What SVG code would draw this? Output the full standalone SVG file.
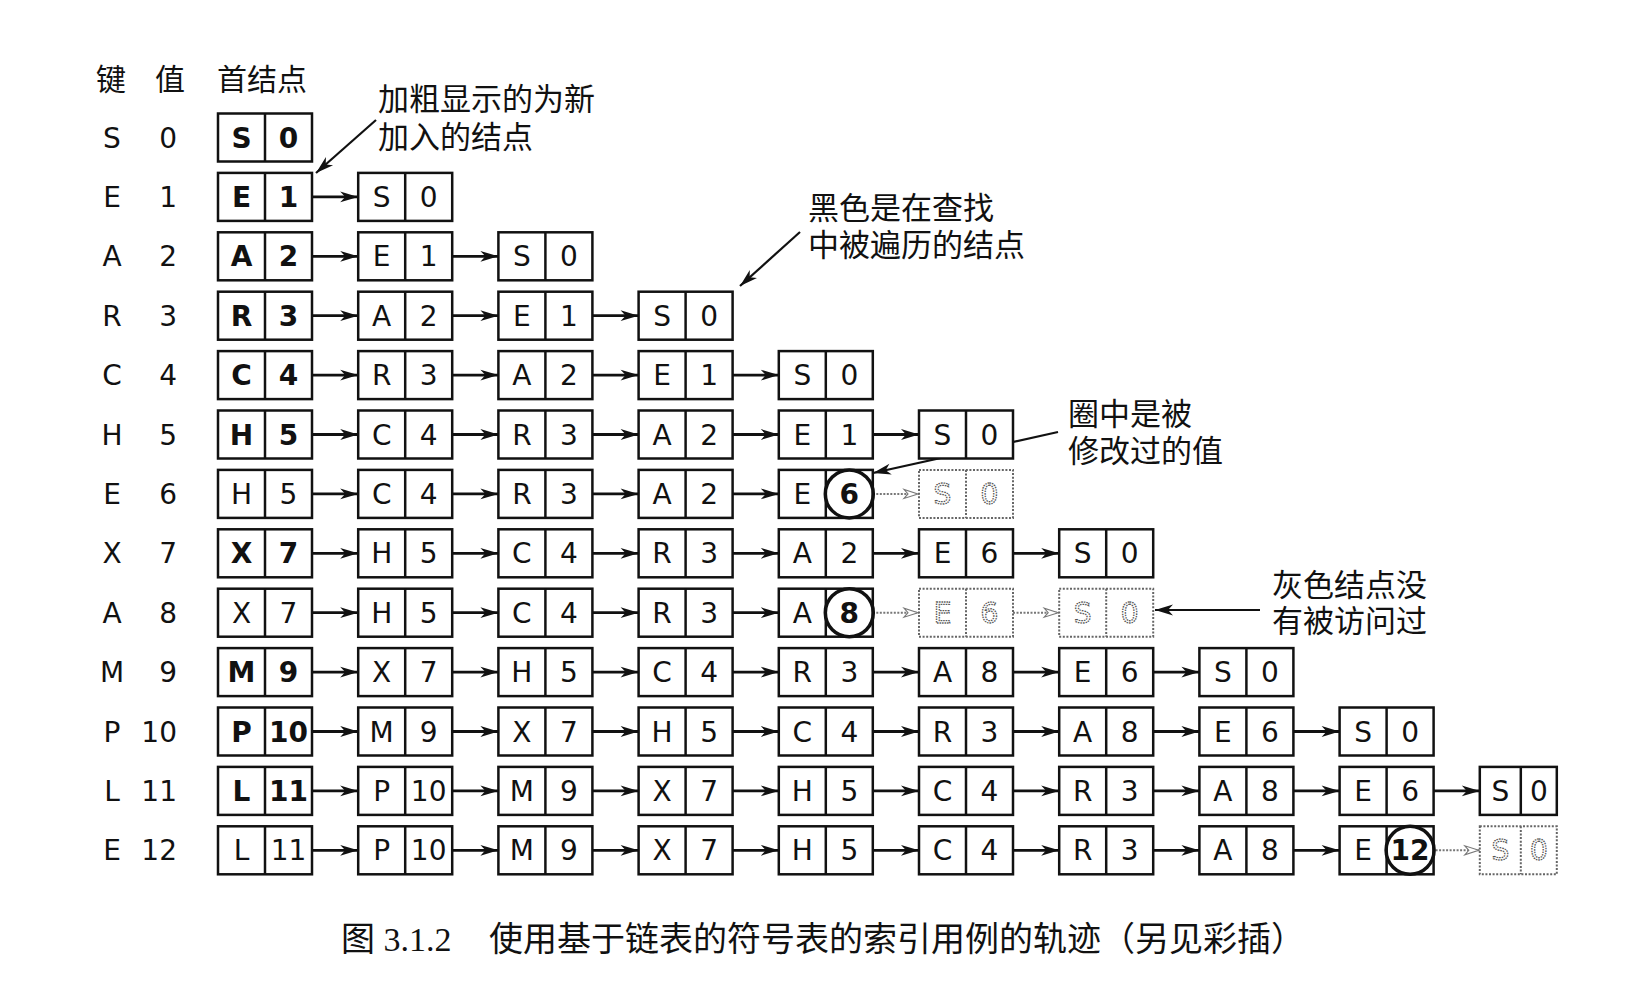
<svg xmlns="http://www.w3.org/2000/svg" width="1652" height="998" viewBox="0 0 1652 998">
<style>
.n rect{fill:#fff;stroke:#111;stroke-width:2.5}
.n path{fill:none;stroke:#111;stroke-width:2.5}
.n text{font-family:"DejaVu Sans","Liberation Sans",sans-serif;font-size:28px;text-anchor:middle;fill:#111}
.nb text{font-weight:bold}
.n circle{fill:none;stroke:#111;stroke-width:3.5}
.n text.bo{font-weight:bold}
.ng rect,.ng path{stroke:#666;stroke-width:2;stroke-dasharray:2 1.6}
.ng text{fill:none;stroke:#555;stroke-width:1.3;stroke-dasharray:1.5 1}
.lab{font-family:"DejaVu Sans","Liberation Sans",sans-serif;font-size:28px;fill:#111}
.cj{font-family:"Noto Sans CJK SC",sans-serif;font-size:31px;fill:#111}
.hd{font-family:"Noto Sans CJK SC",sans-serif;font-size:30px;fill:#111}
.cap{font-family:"Liberation Serif","Noto Sans CJK SC",serif;font-size:34px;fill:#111}
.ar{fill:none;stroke:#111;stroke-width:2.8;marker-end:url(#ah)}
.ga{fill:none;stroke:#777;stroke-width:2;stroke-dasharray:2 1.5;marker-end:url(#gh)}
.ca{fill:none;stroke:#111;stroke-width:2.2;marker-end:url(#ah)}
</style>
<defs>
<marker id="ah" markerUnits="userSpaceOnUse" viewBox="0 0 22 14" markerWidth="22" markerHeight="14" refX="19" refY="7" orient="auto">
<path d="M19,7 L1,1.6 L6,7 L1,12.4 Z" fill="#111"/>
</marker>
<marker id="gh" markerUnits="userSpaceOnUse" viewBox="0 0 22 14" markerWidth="22" markerHeight="14" refX="18" refY="7" orient="auto">
<path d="M17,7 L3,2.5 L7,7 L3,11.5 Z" fill="#fff" stroke="#777" stroke-width="1.1"/>
</marker>
</defs>
<rect width="1652" height="998" fill="#fff"/>

<g id="header">
<text class="hd" x="111" y="90" text-anchor="middle">键</text>
<text class="hd" x="170" y="90" text-anchor="middle">值</text>
<text class="hd" x="217" y="90">首结点</text>
</g>

<g id="row-labels" class="lab">
<g text-anchor="middle">
<text x="112" y="147.5">S</text><text x="112" y="206.9">E</text><text x="112" y="266.3">A</text><text x="112" y="325.7">R</text><text x="112" y="385.1">C</text><text x="112" y="444.5">H</text><text x="112" y="503.9">E</text><text x="112" y="563.3">X</text><text x="112" y="622.7">A</text><text x="112" y="682.1">M</text><text x="112" y="741.5">P</text><text x="112" y="800.9">L</text><text x="112" y="860.3">E</text>
</g>
<g text-anchor="end">
<text x="177" y="147.5">0</text><text x="177" y="206.9">1</text><text x="177" y="266.3">2</text><text x="177" y="325.7">3</text><text x="177" y="385.1">4</text><text x="177" y="444.5">5</text><text x="177" y="503.9">6</text><text x="177" y="563.3">7</text><text x="177" y="622.7">8</text><text x="177" y="682.1">9</text><text x="177" y="741.5">10</text><text x="177" y="800.9">11</text><text x="177" y="860.3">12</text>
</g>
</g>

<g id="connectors">
<path class="ar" d="M312,196.9H358.2"/>
<path class="ar" d="M312,256.3H358.2"/><path class="ar" d="M452.2,256.3H498.4"/>
<path class="ar" d="M312,315.7H358.2"/><path class="ar" d="M452.2,315.7H498.4"/><path class="ar" d="M592.4,315.7H638.6"/>
<path class="ar" d="M312,375.1H358.2"/><path class="ar" d="M452.2,375.1H498.4"/><path class="ar" d="M592.4,375.1H638.6"/><path class="ar" d="M732.6,375.1H778.8"/>
<path class="ar" d="M312,434.5H358.2"/><path class="ar" d="M452.2,434.5H498.4"/><path class="ar" d="M592.4,434.5H638.6"/><path class="ar" d="M732.6,434.5H778.8"/><path class="ar" d="M872.8,434.5H919"/>
<path class="ar" d="M312,493.9H358.2"/><path class="ar" d="M452.2,493.9H498.4"/><path class="ar" d="M592.4,493.9H638.6"/><path class="ar" d="M732.6,493.9H778.8"/><path class="ga" d="M872.8,493.9H919"/>
<path class="ar" d="M312,553.3H358.2"/><path class="ar" d="M452.2,553.3H498.4"/><path class="ar" d="M592.4,553.3H638.6"/><path class="ar" d="M732.6,553.3H778.8"/><path class="ar" d="M872.8,553.3H919"/><path class="ar" d="M1013,553.3H1059.2"/>
<path class="ar" d="M312,612.7H358.2"/><path class="ar" d="M452.2,612.7H498.4"/><path class="ar" d="M592.4,612.7H638.6"/><path class="ar" d="M732.6,612.7H778.8"/><path class="ga" d="M872.8,612.7H919"/><path class="ga" d="M1013,612.7H1059.2"/>
<path class="ar" d="M312,672.1H358.2"/><path class="ar" d="M452.2,672.1H498.4"/><path class="ar" d="M592.4,672.1H638.6"/><path class="ar" d="M732.6,672.1H778.8"/><path class="ar" d="M872.8,672.1H919"/><path class="ar" d="M1013,672.1H1059.2"/><path class="ar" d="M1153.2,672.1H1199.4"/>
<path class="ar" d="M312,731.5H358.2"/><path class="ar" d="M452.2,731.5H498.4"/><path class="ar" d="M592.4,731.5H638.6"/><path class="ar" d="M732.6,731.5H778.8"/><path class="ar" d="M872.8,731.5H919"/><path class="ar" d="M1013,731.5H1059.2"/><path class="ar" d="M1153.2,731.5H1199.4"/><path class="ar" d="M1293.4,731.5H1339.6"/>
<path class="ar" d="M312,790.9H358.2"/><path class="ar" d="M452.2,790.9H498.4"/><path class="ar" d="M592.4,790.9H638.6"/><path class="ar" d="M732.6,790.9H778.8"/><path class="ar" d="M872.8,790.9H919"/><path class="ar" d="M1013,790.9H1059.2"/><path class="ar" d="M1153.2,790.9H1199.4"/><path class="ar" d="M1293.4,790.9H1339.6"/><path class="ar" d="M1433.6,790.9H1479.8"/>
<path class="ar" d="M312,850.3H358.2"/><path class="ar" d="M452.2,850.3H498.4"/><path class="ar" d="M592.4,850.3H638.6"/><path class="ar" d="M732.6,850.3H778.8"/><path class="ar" d="M872.8,850.3H919"/><path class="ar" d="M1013,850.3H1059.2"/><path class="ar" d="M1153.2,850.3H1199.4"/><path class="ar" d="M1293.4,850.3H1339.6"/><path class="ga" d="M1435.6,850.3H1479.8"/>
<path class="ca" d="M376,120L316,173"/>
<path class="ca" d="M800,232L740,286"/>
<path class="ca" d="M1058,432L873,473"/>
<path class="ca" d="M1260,610H1155"/>
</g>

<g id="nodes">
<g id="r0c0" class="n nb" transform="translate(218,113.5)"><rect width="94" height="48"/><path d="M47,0V48"/><text x="23.5" y="34">S</text><text x="70.5" y="34">0</text></g>
<g id="r1c0" class="n nb" transform="translate(218,172.9)"><rect width="94" height="48"/><path d="M47,0V48"/><text x="23.5" y="34">E</text><text x="70.5" y="34">1</text></g>
<g id="r1c1" class="n" transform="translate(358.2,172.9)"><rect width="94" height="48"/><path d="M47,0V48"/><text x="23.5" y="34">S</text><text x="70.5" y="34">0</text></g>
<g id="r2c0" class="n nb" transform="translate(218,232.3)"><rect width="94" height="48"/><path d="M47,0V48"/><text x="23.5" y="34">A</text><text x="70.5" y="34">2</text></g>
<g id="r2c1" class="n" transform="translate(358.2,232.3)"><rect width="94" height="48"/><path d="M47,0V48"/><text x="23.5" y="34">E</text><text x="70.5" y="34">1</text></g>
<g id="r2c2" class="n" transform="translate(498.4,232.3)"><rect width="94" height="48"/><path d="M47,0V48"/><text x="23.5" y="34">S</text><text x="70.5" y="34">0</text></g>
<g id="r3c0" class="n nb" transform="translate(218,291.7)"><rect width="94" height="48"/><path d="M47,0V48"/><text x="23.5" y="34">R</text><text x="70.5" y="34">3</text></g>
<g id="r3c1" class="n" transform="translate(358.2,291.7)"><rect width="94" height="48"/><path d="M47,0V48"/><text x="23.5" y="34">A</text><text x="70.5" y="34">2</text></g>
<g id="r3c2" class="n" transform="translate(498.4,291.7)"><rect width="94" height="48"/><path d="M47,0V48"/><text x="23.5" y="34">E</text><text x="70.5" y="34">1</text></g>
<g id="r3c3" class="n" transform="translate(638.6,291.7)"><rect width="94" height="48"/><path d="M47,0V48"/><text x="23.5" y="34">S</text><text x="70.5" y="34">0</text></g>
<g id="r4c0" class="n nb" transform="translate(218,351.1)"><rect width="94" height="48"/><path d="M47,0V48"/><text x="23.5" y="34">C</text><text x="70.5" y="34">4</text></g>
<g id="r4c1" class="n" transform="translate(358.2,351.1)"><rect width="94" height="48"/><path d="M47,0V48"/><text x="23.5" y="34">R</text><text x="70.5" y="34">3</text></g>
<g id="r4c2" class="n" transform="translate(498.4,351.1)"><rect width="94" height="48"/><path d="M47,0V48"/><text x="23.5" y="34">A</text><text x="70.5" y="34">2</text></g>
<g id="r4c3" class="n" transform="translate(638.6,351.1)"><rect width="94" height="48"/><path d="M47,0V48"/><text x="23.5" y="34">E</text><text x="70.5" y="34">1</text></g>
<g id="r4c4" class="n" transform="translate(778.8,351.1)"><rect width="94" height="48"/><path d="M47,0V48"/><text x="23.5" y="34">S</text><text x="70.5" y="34">0</text></g>
<g id="r5c0" class="n nb" transform="translate(218,410.5)"><rect width="94" height="48"/><path d="M47,0V48"/><text x="23.5" y="34">H</text><text x="70.5" y="34">5</text></g>
<g id="r5c1" class="n" transform="translate(358.2,410.5)"><rect width="94" height="48"/><path d="M47,0V48"/><text x="23.5" y="34">C</text><text x="70.5" y="34">4</text></g>
<g id="r5c2" class="n" transform="translate(498.4,410.5)"><rect width="94" height="48"/><path d="M47,0V48"/><text x="23.5" y="34">R</text><text x="70.5" y="34">3</text></g>
<g id="r5c3" class="n" transform="translate(638.6,410.5)"><rect width="94" height="48"/><path d="M47,0V48"/><text x="23.5" y="34">A</text><text x="70.5" y="34">2</text></g>
<g id="r5c4" class="n" transform="translate(778.8,410.5)"><rect width="94" height="48"/><path d="M47,0V48"/><text x="23.5" y="34">E</text><text x="70.5" y="34">1</text></g>
<g id="r5c5" class="n" transform="translate(919,410.5)"><rect width="94" height="48"/><path d="M47,0V48"/><text x="23.5" y="34">S</text><text x="70.5" y="34">0</text></g>
<g id="r6c0" class="n" transform="translate(218,469.9)"><rect width="94" height="48"/><path d="M47,0V48"/><text x="23.5" y="34">H</text><text x="70.5" y="34">5</text></g>
<g id="r6c1" class="n" transform="translate(358.2,469.9)"><rect width="94" height="48"/><path d="M47,0V48"/><text x="23.5" y="34">C</text><text x="70.5" y="34">4</text></g>
<g id="r6c2" class="n" transform="translate(498.4,469.9)"><rect width="94" height="48"/><path d="M47,0V48"/><text x="23.5" y="34">R</text><text x="70.5" y="34">3</text></g>
<g id="r6c3" class="n" transform="translate(638.6,469.9)"><rect width="94" height="48"/><path d="M47,0V48"/><text x="23.5" y="34">A</text><text x="70.5" y="34">2</text></g>
<g id="r6c4" class="n" transform="translate(778.8,469.9)"><rect width="94" height="48"/><path d="M47,0V48"/><text x="23.5" y="34">E</text><text class="bo" x="70.5" y="34">6</text><circle cx="70.5" cy="24" r="24"/></g>
<g id="r6c5" class="n ng" transform="translate(919,469.9)"><rect width="94" height="48"/><path d="M47,0V48"/><text x="23.5" y="34">S</text><text x="70.5" y="34">0</text></g>
<g id="r7c0" class="n nb" transform="translate(218,529.3)"><rect width="94" height="48"/><path d="M47,0V48"/><text x="23.5" y="34">X</text><text x="70.5" y="34">7</text></g>
<g id="r7c1" class="n" transform="translate(358.2,529.3)"><rect width="94" height="48"/><path d="M47,0V48"/><text x="23.5" y="34">H</text><text x="70.5" y="34">5</text></g>
<g id="r7c2" class="n" transform="translate(498.4,529.3)"><rect width="94" height="48"/><path d="M47,0V48"/><text x="23.5" y="34">C</text><text x="70.5" y="34">4</text></g>
<g id="r7c3" class="n" transform="translate(638.6,529.3)"><rect width="94" height="48"/><path d="M47,0V48"/><text x="23.5" y="34">R</text><text x="70.5" y="34">3</text></g>
<g id="r7c4" class="n" transform="translate(778.8,529.3)"><rect width="94" height="48"/><path d="M47,0V48"/><text x="23.5" y="34">A</text><text x="70.5" y="34">2</text></g>
<g id="r7c5" class="n" transform="translate(919,529.3)"><rect width="94" height="48"/><path d="M47,0V48"/><text x="23.5" y="34">E</text><text x="70.5" y="34">6</text></g>
<g id="r7c6" class="n" transform="translate(1059.2,529.3)"><rect width="94" height="48"/><path d="M47,0V48"/><text x="23.5" y="34">S</text><text x="70.5" y="34">0</text></g>
<g id="r8c0" class="n" transform="translate(218,588.7)"><rect width="94" height="48"/><path d="M47,0V48"/><text x="23.5" y="34">X</text><text x="70.5" y="34">7</text></g>
<g id="r8c1" class="n" transform="translate(358.2,588.7)"><rect width="94" height="48"/><path d="M47,0V48"/><text x="23.5" y="34">H</text><text x="70.5" y="34">5</text></g>
<g id="r8c2" class="n" transform="translate(498.4,588.7)"><rect width="94" height="48"/><path d="M47,0V48"/><text x="23.5" y="34">C</text><text x="70.5" y="34">4</text></g>
<g id="r8c3" class="n" transform="translate(638.6,588.7)"><rect width="94" height="48"/><path d="M47,0V48"/><text x="23.5" y="34">R</text><text x="70.5" y="34">3</text></g>
<g id="r8c4" class="n" transform="translate(778.8,588.7)"><rect width="94" height="48"/><path d="M47,0V48"/><text x="23.5" y="34">A</text><text class="bo" x="70.5" y="34">8</text><circle cx="70.5" cy="24" r="24"/></g>
<g id="r8c5" class="n ng" transform="translate(919,588.7)"><rect width="94" height="48"/><path d="M47,0V48"/><text x="23.5" y="34">E</text><text x="70.5" y="34">6</text></g>
<g id="r8c6" class="n ng" transform="translate(1059.2,588.7)"><rect width="94" height="48"/><path d="M47,0V48"/><text x="23.5" y="34">S</text><text x="70.5" y="34">0</text></g>
<g id="r9c0" class="n nb" transform="translate(218,648.1)"><rect width="94" height="48"/><path d="M47,0V48"/><text x="23.5" y="34">M</text><text x="70.5" y="34">9</text></g>
<g id="r9c1" class="n" transform="translate(358.2,648.1)"><rect width="94" height="48"/><path d="M47,0V48"/><text x="23.5" y="34">X</text><text x="70.5" y="34">7</text></g>
<g id="r9c2" class="n" transform="translate(498.4,648.1)"><rect width="94" height="48"/><path d="M47,0V48"/><text x="23.5" y="34">H</text><text x="70.5" y="34">5</text></g>
<g id="r9c3" class="n" transform="translate(638.6,648.1)"><rect width="94" height="48"/><path d="M47,0V48"/><text x="23.5" y="34">C</text><text x="70.5" y="34">4</text></g>
<g id="r9c4" class="n" transform="translate(778.8,648.1)"><rect width="94" height="48"/><path d="M47,0V48"/><text x="23.5" y="34">R</text><text x="70.5" y="34">3</text></g>
<g id="r9c5" class="n" transform="translate(919,648.1)"><rect width="94" height="48"/><path d="M47,0V48"/><text x="23.5" y="34">A</text><text x="70.5" y="34">8</text></g>
<g id="r9c6" class="n" transform="translate(1059.2,648.1)"><rect width="94" height="48"/><path d="M47,0V48"/><text x="23.5" y="34">E</text><text x="70.5" y="34">6</text></g>
<g id="r9c7" class="n" transform="translate(1199.4,648.1)"><rect width="94" height="48"/><path d="M47,0V48"/><text x="23.5" y="34">S</text><text x="70.5" y="34">0</text></g>
<g id="r10c0" class="n nb" transform="translate(218,707.5)"><rect width="94" height="48"/><path d="M47,0V48"/><text x="23.5" y="34">P</text><text x="70.5" y="34">10</text></g>
<g id="r10c1" class="n" transform="translate(358.2,707.5)"><rect width="94" height="48"/><path d="M47,0V48"/><text x="23.5" y="34">M</text><text x="70.5" y="34">9</text></g>
<g id="r10c2" class="n" transform="translate(498.4,707.5)"><rect width="94" height="48"/><path d="M47,0V48"/><text x="23.5" y="34">X</text><text x="70.5" y="34">7</text></g>
<g id="r10c3" class="n" transform="translate(638.6,707.5)"><rect width="94" height="48"/><path d="M47,0V48"/><text x="23.5" y="34">H</text><text x="70.5" y="34">5</text></g>
<g id="r10c4" class="n" transform="translate(778.8,707.5)"><rect width="94" height="48"/><path d="M47,0V48"/><text x="23.5" y="34">C</text><text x="70.5" y="34">4</text></g>
<g id="r10c5" class="n" transform="translate(919,707.5)"><rect width="94" height="48"/><path d="M47,0V48"/><text x="23.5" y="34">R</text><text x="70.5" y="34">3</text></g>
<g id="r10c6" class="n" transform="translate(1059.2,707.5)"><rect width="94" height="48"/><path d="M47,0V48"/><text x="23.5" y="34">A</text><text x="70.5" y="34">8</text></g>
<g id="r10c7" class="n" transform="translate(1199.4,707.5)"><rect width="94" height="48"/><path d="M47,0V48"/><text x="23.5" y="34">E</text><text x="70.5" y="34">6</text></g>
<g id="r10c8" class="n" transform="translate(1339.6,707.5)"><rect width="94" height="48"/><path d="M47,0V48"/><text x="23.5" y="34">S</text><text x="70.5" y="34">0</text></g>
<g id="r11c0" class="n nb" transform="translate(218,766.9)"><rect width="94" height="48"/><path d="M47,0V48"/><text x="23.5" y="34">L</text><text x="70.5" y="34">11</text></g>
<g id="r11c1" class="n" transform="translate(358.2,766.9)"><rect width="94" height="48"/><path d="M47,0V48"/><text x="23.5" y="34">P</text><text x="70.5" y="34">10</text></g>
<g id="r11c2" class="n" transform="translate(498.4,766.9)"><rect width="94" height="48"/><path d="M47,0V48"/><text x="23.5" y="34">M</text><text x="70.5" y="34">9</text></g>
<g id="r11c3" class="n" transform="translate(638.6,766.9)"><rect width="94" height="48"/><path d="M47,0V48"/><text x="23.5" y="34">X</text><text x="70.5" y="34">7</text></g>
<g id="r11c4" class="n" transform="translate(778.8,766.9)"><rect width="94" height="48"/><path d="M47,0V48"/><text x="23.5" y="34">H</text><text x="70.5" y="34">5</text></g>
<g id="r11c5" class="n" transform="translate(919,766.9)"><rect width="94" height="48"/><path d="M47,0V48"/><text x="23.5" y="34">C</text><text x="70.5" y="34">4</text></g>
<g id="r11c6" class="n" transform="translate(1059.2,766.9)"><rect width="94" height="48"/><path d="M47,0V48"/><text x="23.5" y="34">R</text><text x="70.5" y="34">3</text></g>
<g id="r11c7" class="n" transform="translate(1199.4,766.9)"><rect width="94" height="48"/><path d="M47,0V48"/><text x="23.5" y="34">A</text><text x="70.5" y="34">8</text></g>
<g id="r11c8" class="n" transform="translate(1339.6,766.9)"><rect width="94" height="48"/><path d="M47,0V48"/><text x="23.5" y="34">E</text><text x="70.5" y="34">6</text></g>
<g id="r11c9" class="n" transform="translate(1479.8,766.9)"><rect width="77" height="48"/><path d="M41,0V48"/><text x="20.5" y="34">S</text><text x="59" y="34">0</text></g>
<g id="r12c0" class="n" transform="translate(218,826.3)"><rect width="94" height="48"/><path d="M47,0V48"/><text x="23.5" y="34">L</text><text x="70.5" y="34">11</text></g>
<g id="r12c1" class="n" transform="translate(358.2,826.3)"><rect width="94" height="48"/><path d="M47,0V48"/><text x="23.5" y="34">P</text><text x="70.5" y="34">10</text></g>
<g id="r12c2" class="n" transform="translate(498.4,826.3)"><rect width="94" height="48"/><path d="M47,0V48"/><text x="23.5" y="34">M</text><text x="70.5" y="34">9</text></g>
<g id="r12c3" class="n" transform="translate(638.6,826.3)"><rect width="94" height="48"/><path d="M47,0V48"/><text x="23.5" y="34">X</text><text x="70.5" y="34">7</text></g>
<g id="r12c4" class="n" transform="translate(778.8,826.3)"><rect width="94" height="48"/><path d="M47,0V48"/><text x="23.5" y="34">H</text><text x="70.5" y="34">5</text></g>
<g id="r12c5" class="n" transform="translate(919,826.3)"><rect width="94" height="48"/><path d="M47,0V48"/><text x="23.5" y="34">C</text><text x="70.5" y="34">4</text></g>
<g id="r12c6" class="n" transform="translate(1059.2,826.3)"><rect width="94" height="48"/><path d="M47,0V48"/><text x="23.5" y="34">R</text><text x="70.5" y="34">3</text></g>
<g id="r12c7" class="n" transform="translate(1199.4,826.3)"><rect width="94" height="48"/><path d="M47,0V48"/><text x="23.5" y="34">A</text><text x="70.5" y="34">8</text></g>
<g id="r12c8" class="n" transform="translate(1339.6,826.3)"><rect width="94" height="48"/><path d="M47,0V48"/><text x="23.5" y="34">E</text><text class="bo" x="70.5" y="34">12</text><circle cx="70.5" cy="24" r="24"/></g>
<g id="r12c9" class="n ng" transform="translate(1479.8,826.3)"><rect width="77" height="48"/><path d="M41,0V48"/><text x="20.5" y="34">S</text><text x="59" y="34">0</text></g>
</g>

<g id="notes" class="cj">
<text x="378" y="110"><tspan x="378" y="110">加粗显示的为新</tspan><tspan x="378" y="148">加入的结点</tspan></text>
<text x="808" y="219"><tspan x="808" y="219">黑色是在查找</tspan><tspan x="808" y="256">中被遍历的结点</tspan></text>
<text x="1068" y="425"><tspan x="1068" y="425">圈中是被</tspan><tspan x="1068" y="462">修改过的值</tspan></text>
<text x="1272" y="596"><tspan x="1272" y="596">灰色结点没</tspan><tspan x="1272" y="632">有被访问过</tspan></text>
</g>

<g id="caption" class="cap">
<text x="341" y="951">图 3.1.2</text>
<text x="489" y="951">使用基于链表的符号表的索引用例的轨迹（另见彩插）</text>
</g>
</svg>
